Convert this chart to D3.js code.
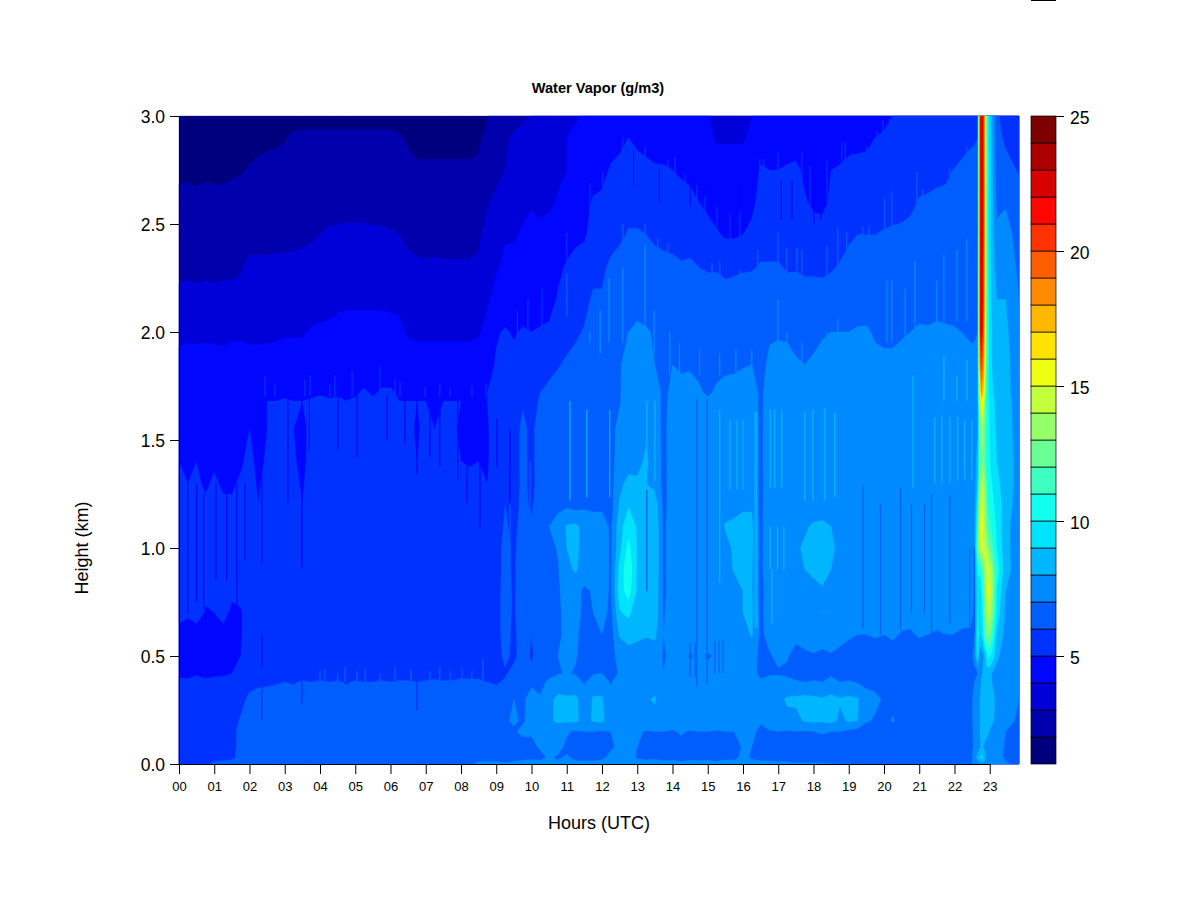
<!DOCTYPE html>
<html><head><meta charset="utf-8">
<script src="https://cdn.jsdelivr.net/npm/d3@7"></script>
<style>html,body{margin:0;background:#fff}svg{display:block}text{font-family:"Liberation Sans",Arial,sans-serif;fill:#000}</style>
</head><body><svg id="c" width="1200" height="900"></svg>
<script>
const titleText="Water Vapor (g/m3)", xTitle="Hours (UTC)", yTitle="Height (km)";
const hourLabels=["00","01","02","03","04","05","06","07","08","09","10","11","12","13","14","15","16","17","18","19","20","21","22","23"];
const heightTicks=[0,0.5,1,1.5,2,2.5,3];
const legendTicks=[5,10,15,20,25];
const levels=[1,2,3,4,5,6,7,8,9,10,11,12,13,14,15,16,17,18,19,20,21,22,23,24,25];
const jetAnchors=["#00007F","#0000FF","#007FFF","#00FFFF","#7FFF7F","#FFFF00","#FF7F00","#FF0000","#7F0000"];
const columnHours=[0,.25,.5,.75,1,1.25,1.5,1.75,2,2.25,2.5,2.75,3,3.25,3.5,3.75,4,4.25,4.5,4.75,5,5.25,5.5,5.75,6,6.25,6.5,6.75,7,7.25,7.5,7.75,8,8.25,8.5,8.75,9,9.25,9.5,9.75,10,10.25,10.5,10.75,11,11.25,11.5,11.75,12,12.25,12.5,12.75,13,13.25,13.5,13.75,14,14.25,14.5,14.75,15,15.25,15.5,15.75,16,16.25,16.5,16.75,17,17.25,17.5,17.75,18,18.25,18.5,18.75,19,19.25,19.5,19.75,20,20.25,20.5,20.75,21,21.25,21.5,21.75,21.95,22.2,22.46,22.56,22.66,22.72,22.76,22.81,22.86,22.91,22.96,23.06,23.2,23.45,23.83];
const rowHeights=[0,.03,.08,.15,.2,.3,.38,.42,.5,.6,.7,.8,.9,1,1.1,1.2,1.3,1.4,1.55,1.68,1.72,1.85,2,2.15,2.3,2.45,2.6,2.75,2.9,3];
const r000=[5.5,5.6,5.6,5.7, 6.3,6.3,6.4,6.4, 6.5,6.5,6.5,6.5, 6.5,6.5,6.5,6.5, 6.5,6.5,6.5,6.5, 6.5,6.5,6.5,6.5, 6.5,6.5,6.5,6.5, 6.5,6.5,6.5,6.5, 6.6,6.8,7.2,7.2, 7.2,7.1,7.2,7.3, 7.2,7.3,7.3,7.2, 7.3,7.2,7.2,7.3, 7.4,7.5,7.6,7.6, 7.4,7.3,7.3,7.2, 7.3,7.2,7.3,7.2, 7.3,7.2,7.2,7.3, 7.4,7.3,7.2,7.3, 7.2,7.2,7.1,7.1, 7.1,7.1,7,7, 6.8,6.6,6.5,6.5, 6.5,6.5,6.5,6.5, 6.5,6.5,6.5,6.5, 6.5,6.5,6.6,7.5, 7.5,7.5,7.6,7.6, 7.6,7.6,7.6,7.5, 7.4,7.2,6.5];
const r003=[5.5,5.5,5.5,5.6, 5.6,5.7,5.8,6.3, 6.5,6.5,6.5,6.5, 6.5,6.5,6.5,6.5, 6.5,6.5,6.5,6.5, 6.5,6.5,6.5,6.5, 6.5,6.5,6.5,6.5, 6.5,6.5,6.5,6.5, 6.5,6.6,6.7,6.7, 6.7,6.6,6.7,6.8, 6.9,6.8,7.1,6.9, 7.1,6.8,6.8,6.7, 6.8,7.3,7.4,7.4, 6.9,6.8,6.9,6.8, 6.8,6.7,6.8,6.8, 6.8,6.7,6.9,6.8, 7.2,6.9,6.8,6.7, 6.7,6.6,6.6,6.6, 6.5,6.5,6.5,6.5, 6.5,6.5,6.5,6.5, 6.5,6.5,6.5,6.5, 6.5,6.5,6.5,6.5, 6.5,6.5,6.6,7.5, 8.3,8.8,9.2,9, 8.4,7.7,7.6,7.5, 7.4,6.8,6.4];
const r008=[5.5,5.5,5.5,5.5, 5.5,5.5,5.6,6.4, 6.5,6.5,6.5,6.5, 6.5,6.5,6.5,6.5, 6.5,6.5,6.5,6.5, 6.5,6.5,6.5,6.5, 6.5,6.5,6.5,6.5, 6.5,6.5,6.5,6.5, 6.5,6.5,6.5,6.5, 6.5,6.6,6.7,6.6, 6.8,7.1,7.2,7.3, 6.8,6.6,6.6,6.7, 6.7,6.8,7.3,7.4, 7,6.7,6.8,6.7, 6.6,6.7,6.6,6.6, 6.7,6.6,6.7,6.6, 7.1,7,6.6,6.6, 6.6,6.5,6.5,6.5, 6.5,6.5,6.5,6.5, 6.5,6.5,6.5,6.5, 6.5,6.5,6.5,6.5, 6.5,6.5,6.5,6.5, 6.5,6.5,6.6,7.2, 7.6,7.8,8.2,8, 7.8,7.6,7.6,7.5, 7.4,6.9,6.4];
const r015=[5.5,5.5,5.5,5.5, 5.5,5.5,5.6,6.4, 6.5,6.5,6.5,6.5, 6.5,6.5,6.5,6.5, 6.5,6.5,6.5,6.5, 6.5,6.5,6.5,6.5, 6.5,6.5,6.5,6.5, 6.5,6.5,6.5,6.5, 6.5,6.5,6.5,6.5, 6.6,6.7,6.9,7.2, 7.1,7.3,7.4,7.2, 7.1,6.9,7,7, 6.9,7,7.4,7.5, 7.2,6.9,7,7, 6.9,7.1,6.9,7, 7,6.9,7,7, 7.3,7.2,6.8,6.9, 7,6.9,7,6.9, 7,7.1,7,7, 6.8,6.6,6.5,6.5, 6.5,6.5,6.5,6.5, 6.5,6.5,6.5,6.5, 6.5,6.5,6.6,7.2, 7.7,8,8.3,8.4, 8.4,8.3,8.1,7.7, 7.5,7,6.7];
const r020=[5.5,5.5,5.5,5.5, 5.4,5.5,5.6,6.1, 6.4,6.5,6.5,6.5, 6.5,6.5,6.5,6.5, 6.5,6.5,6.5,6.5, 6.5,6.5,6.5,6.5, 6.5,6.5,6.5,6.5, 6.5,6.5,6.5,6.5, 6.5,6.5,6.5,6.5, 6.5,6.9,7.1,6.9, 7.3,7,7.8,8.2, 8.1,8.2,7.6,8.1, 8.2,7.4,7.6,7.8, 7.7,7.8,7.7,7.4, 7.6,7.7,7.8,7.6, 7.7,7.7,7.6,7.7, 7.8,7.6,7.1,7.6, 7.7,7.8,7.7,8.1, 8.2,8.1,8.3,7.8, 8.1,8,7.1,6.9, 6.7,7.1,6.6,6.5, 6.5,6.5,6.5,6.5, 6.5,6.5,6.7,7.3, 7.6,7.9,8.5,8.8, 8.8,8.7,8.5,8.2, 7.7,7.2,6.9];
const r030=[5.5,5.5,5.5,5.5, 5.4,5.5,5.5,5.7, 6.2,6.4,6.5,6.5, 6.5,6.5,6.5,6.5, 6.5,6.5,6.5,6.5, 6.5,6.5,6.5,6.5, 6.5,6.5,6.5,6.5, 6.5,6.5,6.5,6.5, 6.5,6.5,6.5,6.5, 6.5,6.9,7,6.8, 7.4,7.1,7.8,8.2, 8.1,8.2,7.4,8.1, 8.1,7.3,7.7,7.7, 7.6,7.9,8.1,7.4, 7.6,7.7,7.6,7.7, 7.7,7.6,7.7,7.7, 7.8,7.6,7.1,7.7, 7.8,8.1,8.2,8.3, 8.2,8.1,8.3,8.1, 8.2,8.1,7.3,7.2, 6.9,6.7,6.7,6.6, 6.5,6.5,6.5,6.5, 6.5,6.5,6.8,7.2, 7.5,8,8.4,8.8, 8.8,8.6,8.6,8.3, 7.8,7.3,7];
const r038=[5.2,5.2,5.3,5.2, 5.3,5.2,5.4,5.5, 5.7,5.8,5.8,5.9, 6,5.9,6.1,6, 6.1,6,6.1,5.9, 6.1,6,6,6.1, 6,6.1,6.1,6, 6.1,6.2,6.1,6.1, 6.2,6.1,6.2,6, 5.9,6.1,6.5,6.6, 6.8,6.7,7.2,7.5, 7.6,7.4,6.9,7.5, 7.5,6.9,7.5,7.6, 7.5,7.4,7.6,7.2, 7.5,7.5,7.4,7.6, 7.5,7.6,7.5,7.5, 7.5,7.6,7.1,7.3, 7.4,7.3,7.1,7, 7.1,7,7.2,7, 7.1,6.9,6.8,6.7, 6.6,6.6,6.5,6.5, 6.5,6.5,6.5,6.5, 6.5,6.5,6.7,7, 7.2,7.6,8,8.2, 8.4,8.4,8.3,8, 7.7,7.3,7];
const r042=[4.8,4.7,4.9,4.7, 4.8,4.9,5,5.2, 5.5,5.5,5.5,5.5, 5.5,5.5,5.5,5.5, 5.5,5.5,5.5,5.5, 5.5,5.5,5.5,5.5, 5.5,5.5,5.5,5.5, 5.5,5.5,5.5,5.5, 5.7,5.8,5.6,5.7, 5.6,5.9,6.3,6.5, 6.2,6.6,6.7,6.9, 7.1,6.9,6.6,6.9, 7,6.6,7.1,7.5, 7.4,7.2,7.3,7, 7.3,7.2,7.2,7.3, 7.3,7.2,7.3,7.2, 7.4,7.3,6.8,6.9, 6.9,6.8,6.6,6.6, 6.6,6.6,6.9,6.6, 6.5,6.5,6.5,6.5, 6.5,6.5,6.5,6.5, 6.5,6.5,6.5,6.5, 6.5,6.5,6.6,6.8, 7,7.3,7.7,8.2, 8.6,8.7,8.4,8, 7.7,7.3,7];
const r050=[4.6,4.7,4.4,4.6, 4.5,4.7,4.6,5, 5.5,5.5,5.5,5.5, 5.5,5.5,5.5,5.5, 5.5,5.5,5.5,5.5, 5.5,5.5,5.5,5.5, 5.5,5.5,5.5,5.5, 5.5,5.5,5.5,5.5, 5.5,5.5,5.5,5.5, 5.6,6.2,5.8,6.4, 5.9,6.4,6.6,7, 7.3,7.1,6.5,6.8, 6.8,6.6,7.4,7.6, 7.6,7.4,7.5,6.9, 7.3,7.4,6.9,7.2, 6.9,7.1,7.3,7.4, 7.3,7.3,6.8,6.9, 7.2,7.1,6.6,6.7, 6.9,6.6,6.9,6.6, 6.7,6.6,6.6,6.5, 6.5,6.5,6.5,6.5, 6.5,6.5,6.5,6.5, 6.5,6.5,6.7,7.2, 9.6,7.3,7.5,7.8, 8.5,9.3,10.2,9.8, 8.2,7.5,7];
const r060=[4.6,4.4,4.5,4.6, 4.5,4.7,4.6,4.9, 5.5,5.5,5.5,5.5, 5.5,5.5,5.5,5.5, 5.5,5.5,5.5,5.5, 5.5,5.5,5.5,5.5, 5.5,5.5,5.5,5.5, 5.5,5.5,5.5,5.5, 5.5,5.5,5.5,5.5, 5.7,6.3,5.8,6.5, 6,6.3,6.2,6.7, 7.4,7.2,6.6,6.9, 7,6.6,8.1,8.4, 8.2,8.1,8.2,7, 7.5,7.6,7.5,7.6, 7.5,7.5,7.6,7.5, 7.6,8.1,6.8,7.3, 7.6,7.5,7.3,7.7, 7.7,7.8,7.6,7.5, 7.1,7,7,7.1, 7,7.2,6.9,6.9, 7.1,7,6.9,7, 7,6.9,6.9,6.9, 10.2,8.8,9.1,9.8, 11.5,12.6,13.2,11.5, 8.8,7.7,7];
const r070=[5.4,5.2,5.5,4.9, 5,5.3,4.8,4.9, 5.5,5.5,5.5,5.5, 5.5,5.5,5.5,5.5, 5.5,5.5,5.5,5.5, 5.5,5.5,5.5,5.5, 5.5,5.5,5.5,5.5, 5.5,5.5,5.5,5.5, 5.5,5.5,5.5,5.6, 5.7,6.3,5.9,6.5, 6.1,6.4,6.3,6.7, 7.5,7.3,6.8,7, 7.4,6.7,8.9,9.2, 8.5,8.4,8.6,6.9, 7.6,7.5,7.6,7.5, 7.6,7.5,7.6,7.7, 8,8.2,6.7,7.6, 7.7,7.6,7.7,7.9, 7.8,8,8,7.7, 7.6,7.6,7.7,7.3, 7.6,7.7,7.5,7.3, 7.9,7.7,7.4,7.8, 7.6,7.3,7.2,6.9, 9.7,8.8,9.5,10.2, 12.1,13.8,14.5,13.1, 9.6,7.8,7.1];
const r080=[5.5,5.3,5.5,5.2, 5.4,5.3,5.2,5.3, 5.5,5.5,5.5,5.5, 5.5,5.5,5.5,5.5, 5.5,5.5,5.5,5.5, 5.5,5.5,5.5,5.5, 5.5,5.5,5.5,5.5, 5.5,5.5,5.5,5.5, 5.5,5.5,5.5,5.5, 5.7,6.3,5.9,6.4, 6.2,6.5,6.4,6.8, 7.6,7.4,6.8,7.1, 7.6,6.8,9.5,10.5, 8.8,8.4,8.7,6.8, 7.5,7.6,7.5,7.6, 7.5,7.5,7.6,7.5, 8,8.1,6.7,7.5, 7.6,7.5,7.6,7.8, 7.7,7.9,7.9,7.8, 7.6,7.7,7.5,7.4, 7.6,7.7,7.6,7.2, 7.7,7.7,7.5,7.7, 7.6,7.3,7.2,7, 9.6,8.8,9.8,10.8, 12.8,14.6,15.2,13.8, 9.9,8,7.2];
const r090=[5.7,5.4,5.6,5.3, 5.5,5.4,5.3,5.4, 5.5,5.5,5.5,5.5, 5.5,5.5,5.5,5.5, 5.5,5.5,5.5,5.5, 5.5,5.5,5.5,5.5, 5.5,5.5,5.5,5.5, 5.5,5.5,5.5,5.5, 5.5,5.5,5.5,5.5, 5.7,6.2,5.9,6.4, 6.3,6.6,6.5,6.9, 7.8,8.1,7.6,7.5, 7.7,6.8,9.3,10.8, 8.9,8.6,8.8,6.8, 7.6,7.5,7.6,7.5, 7.5,7.6,7.5,8.1, 8.3,8.1,6.7,7.9, 7.7,7.8,7.9,8, 8.2,8.3,8,7.7, 7.6,7.5,7.6,7.4, 7.6,7.5,7.6,7.4, 7.6,7.5,7.4,7.3, 7.4,7.3,7.2,7.1, 10.2,10.4,11,12, 13.4,14.5,14.8,13.5, 10.6,8.4,7.4];
const r100=[5.4,5.2,5.4,5.3, 5.5,5.3,5.2,5.4, 5.5,5.3,5.5,5.5, 5.5,5.5,5.3,5.5, 5.5,5.5,5.5,5.5, 5.5,5.5,5.5,5.5, 5.5,5.5,5.5,5.5, 5.5,5.5,5.5,5.5, 5.5,5.5,5.5,5.5, 5.7,6.2,5.9,6.3, 6.2,6.5,6.6,7.1, 8,8.2,7.7,7.6, 7.7,6.8,8.7,10.3, 8.9,8.6,8.8,6.8, 7.6,7.5,7.5,7.6, 7.5,7.5,7.6,8.2, 8.4,8.2,6.7,7.9, 7.7,7.8,7.9,8.1, 8.3,8.4,8.2,7.7, 7.6,7.5,7.6,7.5, 7.6,7.5,7.5,7.4, 7.6,7.5,7.4,7.3, 7.4,7.3,7.2,7.1, 12,14.5,15,14.5, 14.6,14,13,11.5, 10,8.3,7.4];
const r110=[5.3,5.2,5.3,5.2, 5.4,5.2,5.1,5.3, 5.5,5.1,5.5,5.5, 5.5,5.5,5.1,5.5, 5.5,5.5,5.5,5.5, 5.5,5.5,5.5,5.5, 5.5,5.5,5.5,5.5, 5.5,5.5,5.5,5.5, 5.5,5.5,5.5,5.3, 5.6,6.1,5.8,6.3, 6.1,6.4,7,7.3, 8.1,8.2,7.7,7.8, 7.6,6.8,8.6,9.6, 8.9,8.7,8.8,6.8, 7.6,7.5,7.6,7.5, 7.6,7.5,8.1,8.3, 8.4,8.2,6.7,7.9, 7.7,7.7,7.8,7.9, 8.1,8.2,8,7.7, 7.6,7.5,7.6,7.5, 7.6,7.6,7.5,7.5, 7.6,7.5,7.5,7.4, 7.4,7.3,7.2,7.2, 11,15,15.8,15, 13.5,12.5,11.5,10.8, 9.8,8.3,7.4];
const r120=[5.2,5.1,5.2,5.1, 5.2,5.1,5.1,5.2, 5.4,5,5.4,5.5, 5.5,5.4,5,5.5, 5.5,5.5,5.5,5.5, 5.5,5.5,5.5,5.5, 5.5,5.5,5.5,5.3, 5.5,5.4,5.5,5.5, 5.5,5.4,5.5,5.1, 5.5,6,5.7,6.2, 5.9,6.4,6.6,6.8, 6.8,6.6,6.8,6.6, 6.7,6.6,8.1,8.9, 8.5,8.4,8.5,6.7, 7.5,7.5,7.4,7.6, 7.5,7.6,7.5,7.5, 7.8,7.9,6.7,7.8, 7.6,7.7,7.7,7.6, 7.6,7.5,7.6,7.5, 7.6,7.5,7.5,7.5, 7.5,7.6,7.5,7.4, 7.5,7.5,7.4,7.4, 7.4,7.3,7.2,7.2, 10,14,15.3,14.5, 13.5,12,10.8,10.3, 9.6,8.5,7.5];
const r130=[5.1,5,5.1,4.9, 5.1,4.9,4.9,5.1, 5.3,4.9,5.3,5.3, 5.4,5.2,4.9,5.4, 5.5,5.5,5.5,5.5, 5.5,5.3,5.5,5.5, 5.5,5.4,5.5,5.2, 5.5,5.3,5.5,5.3, 5.2,5.3,5.3,5, 5.5,5.9,5.6,6.2, 5.8,6.3,6.7,6.5, 6.8,6.6,6.7,6.6, 6.7,6.6,7.8,8.2, 8.1,8,7.7,6.7, 7.5,7.5,7.4,7.5, 7.5,7.5,7.5,7.4, 7.6,7.8,6.7,7.7, 7.6,7.6,7.5,7.6, 7.6,7.5,7.6,7.5, 7.6,7.5,7.5,7.5, 7.5,7.5,7.6,7.5, 7.5,7.6,7.5,7.5, 7.5,7.4,7.2,7.2, 9,13,14,14, 13,11.5,10.5,10, 9.2,8.6,7.6];
const r140=[5,4.9,5,4.8, 4.9,4.8,4.7,4.9, 5.2,4.8,5.1,5.2, 5.3,5.1,4.8,5.3, 5.4,5.5,5.5,5.2, 5.5,5.2,5.5,5.3, 5.5,5.2,5.4,5, 5.4,5.1,5.3,5.2, 5,4.9,5,4.9, 5.5,5.9,5.6,6.2, 5.8,6.4,6.8,6.5, 6.8,6.6,6.7,6.6, 6.7,6.6,7.5,7.7, 7.8,8.1,7.7,6.7, 7.6,7.6,7.5,7.5, 7.5,7.6,7.7,7.6, 7.6,7.9,6.7,7.8, 7.8,7.7,7.7,7.7, 7.7,7.8,7.7,7.7, 7.7,7.6,7.7,7.6, 7.7,7.6,7.7,7.6, 7.6,7.7,7.7,7.7, 7.7,7.7,7.6,7.5, 8.5,12,13,12.8, 11.8,10.8,10.2,9.8, 9,8.6,7.6];
const r155=[4.7,4.6,4.7,4.6, 4.7,4.6,4.6,4.7, 5,4.7,5,5.1, 5.2,5,4.8,5.2, 5.3,5.3,5.4,5.1, 5.3,5.1,5.3,5.2, 5.4,5.1,5.2,4.9, 5.2,5,5.1,5.1, 4.9,4.8,4.9,4.9, 5.5,5.9,5.6,6.2, 5.8,6.4,6.8,6.5, 6.8,6.6,6.7,6.6, 6.7,6.6,7.4,7.6, 7.6,7.9,7.6,6.7, 7.6,7.6,7.5,7.5, 7.5,7.6,7.6,7.6, 7.7,7.9,6.7,7.8, 7.8,7.7,7.7,7.8, 7.8,7.8,7.8,7.7, 7.7,7.6,7.7,7.6, 7.7,7.6,7.7,7.6, 7.6,7.7,7.7,7.7, 7.7,7.7,7.7,7.5, 8,12,13.5,13.2, 12,10.8,10.2,9.6, 8.8,8.4,7.6];
const r168=[4.5,4.5,4.6,4.5, 4.6,4.5,4.5,4.6, 4.9,4.8,5,5, 5.1,5,5,5.1, 5.2,5.1,5.1,5, 5.1,5,5.1,5.1, 5.1,5,5,5, 5,4.9,5,5, 5,4.9,4.9,5, 5.3,5.6,5.6,5.9, 5.7,6.1,6.4,6.6, 6.8,6.9,6.8,6.8, 6.8,6.7,6.9,7.6, 7.6,7.7,7.6,6.7, 7.4,7.3,7.4,7.2, 7.1,7.3,7.4,7.5, 7.6,7.7,6.7,7.7, 7.7,7.6,7.6,7.6, 7.7,7.6,7.7,7.7, 7.7,7.6,7.7,7.6, 7.7,7.6,7.7,7.6, 7.7,7.7,7.7,7.7, 7.7,7.6,7.5,7.4, 8,14,16.5,15.5, 13,11,10.2,9.4, 8.6,8.4,7.5];
const r172=[4.5,4.5,4.5,4.5, 4.5,4.5,4.5,4.6, 4.7,4.8,4.7,4.8, 4.8,4.7,4.9,4.8, 4.9,4.8,4.9,4.8, 4.9,5.1,4.9,5.1, 5.1,4.9,4.9,4.8, 4.8,4.8,4.8,4.8, 4.8,4.8,4.8,5, 5.2,5.4,5.6,5.7, 5.5,6,6.3,6.5, 6.7,6.8,6.8,6.8, 6.8,6.7,6.9,7.6, 7.6,7.7,7.6,6.7, 7.3,7.2,7.3,7.1, 6.9,7.1,7.3,7.4, 7.6,7.7,6.7,7.7, 7.7,7.6,7.6,7.5, 7.6,7.5,7.6,7.7, 7.6,7.6,7.6,7.6, 7.6,7.6,7.6,7.6, 7.6,7.6,7.6,7.6, 7.6,7.5,7.4,7.3, 7.8,15,18,17, 14,11,10.1,9.2, 8.5,8.3,7.5];
const r185=[4.5,4.4,4.5,4.4, 4.5,4.4,4.5,4.5, 4.5,4.5,4.5,4.5, 4.5,4.5,4.5,4.5, 4.5,4.5,4.5,4.5, 4.5,4.5,4.5,4.5, 4.5,4.5,4.5,4.5, 4.5,4.5,4.5,4.5, 4.5,4.5,4.5,4.6, 5.1,5.2,5.3,5.4, 5.2,5.4,5.6,5.9, 6.2,6.4,6.6,6.7, 6.7,6.8,6.9,7.4, 7.4,7.2,7,6.9, 7,6.9,6.9,6.8, 6.7,6.8,6.8,6.8, 6.9,7,6.5,7.3, 7.3,7.4,7.1,7, 7.1,7.3,7.3,7.3, 7.3,7.2,7.3,7.2, 7.2,7.1,7.3,7.3, 7.4,7.3,7.3,7.3, 7.3,7.2,7.2,7.2, 7.5,18,20.5,19, 15,11.5,10.2,9, 8.3,8.3,7.4];
const r200=[3.6,3.8,3.7,3.8, 3.7,3.7,3.8,3.8, 3.7,3.7,3.7,3.8, 3.9,3.9,3.9,4.1, 4.2,4.3,4.3,4.4, 4.4,4.4,4.4,4.4, 4.3,4.2,3.9,3.8, 3.8,3.8,3.8,3.8, 3.8,3.8,3.9,4.3, 4.9,5.1,4.9,5.1, 5,5.1,5.2,5.4, 5.5,5.8,6.1,6.5, 6.6,6.8,6.9,7, 7.2,7.1,6.9,6.8, 6.8,6.7,6.7,6.7, 6.7,6.7,6.7,6.7, 6.7,6.7,6.5,6.8, 6.9,6.8,6.7,6.7, 6.8,6.9,7,7, 7,7.1,7.1,6.9, 6.8,6.9,6.9,7, 7.1,7.1,7.1,7.1, 7.1,7,6.9,6.9, 7,19,23,20, 16,12,10.2,9, 8.2,8.2,7.2];
const r215=[3.3,3.3,3.3,3.3, 3.3,3.3,3.3,3.3, 3.3,3.3,3.3,3.3, 3.5,3.5,3.5,3.5, 3.5,3.5,3.8,3.8, 3.8,3.8,3.8,3.8, 3.8,3.8,3.5,3.4, 3.4,3.4,3.4,3.4, 3.4,3.4,3.4,3.9, 4.3,4.4,4.4,4.5, 4.5,4.5,4.6,5.1, 5.3,5.4,5.6,6.2, 6.1,6.4,6.5,6.5, 6.6,6.5,6.6,6.4, 6.5,6.6,6.5,6.5, 6.5,6.5,6.5,6.5, 6.5,6.6,6.3,6.7, 6.6,6.5,6.6,6.5, 6.5,6.6,6.5,6.6, 6.6,6.5,6.6,6.6, 6.5,6.6,6.6,6.7, 6.7,6.6,6.8,6.7, 6.6,6.6,6.6,6.7, 7,19,23,21, 16.5,12,10.2,8.8, 8,8,7];
const r230=[2.7,2.8,2.7,2.8, 2.7,2.8,2.8,2.9, 3.3,3.3,3.3,3.3, 3.3,3.3,3.3,3.3, 3.3,3.3,3.3,3.3, 3.3,3.3,3.3,3.3, 3.3,3.3,3.1,3.1, 3.1,3.1,3.1,3.1, 3.1,3.1,3.2,3.5, 3.9,4.2,4.3,4.4, 4.5,4.6,4.7,4.8, 5.1,5.3,5.4,5.6, 5.8,6.2,6.4,6.5, 6.5,6.5,6.4,6.3, 6.2,6.1,6.2,6, 5.9,5.9,5.7,5.8, 5.9,5.9,6.1,6.1, 6.1,5.9,5.9,5.8, 5.8,5.7,5.9,6.1, 6.2,6.2,6.3,6.3, 6.3,6.4,6.4,6.4, 6.5,6.5,6.5,6.5, 6.5,6.5,6.5,6.5, 6.8,19,23.5,21, 17,12,10.2,8.6, 7.6,7.7,6.8];
const r245=[2.5,2.5,2.5,2.5, 2.5,2.5,2.5,2.5, 2.5,2.5,2.5,2.6, 2.6,2.7,2.8,2.9, 3,3.2,3.2,3.3, 3.3,3.3,3.2,3.2, 3.1,3,2.9,2.8, 2.7,2.8,2.7,2.7, 2.7,2.7,2.8,3.4, 3.7,3.9,3.9,4.1, 4.3,4.3,4.5,4.6, 4.6,4.8,4.9,5.3, 5.4,5.6,5.8,6.1, 6.1,6,5.8,5.7, 5.7,5.6,5.5,5.5, 5.3,5.1,4.9,4.9, 5,5.3,5.5,5.5, 5.5,5.5,5.5,5.5, 5.5,5.5,5.5,5.5, 5.9,6,6,6, 6.1,6.2,6.3,6.4, 6.5,6.5,6.5,6.5, 6.5,6.5,6.5,6.5, 6.5,19,23.5,21.5, 17,12,10,8.5, 7.2,7.4,6.6];
const r260=[2.5,2.5,2.4,2.5, 2.4,2.5,2.5,2.5, 2.5,2.5,2.5,2.5, 2.5,2.5,2.5,2.5, 2.5,2.5,2.5,2.5, 2.5,2.5,2.5,2.5, 2.5,2.5,2.5,2.5, 2.5,2.5,2.5,2.5, 2.5,2.5,2.6,2.9, 3.3,3.5,3.7,3.8, 3.9,3.7,3.8,4.1, 4.3,4.5,4.7,5.1, 5.2,5.3,5.5,5.6, 5.6,5.6,5.5,5.5, 5.5,5.5,5.3,5, 4.8,4.6,4.6,4.6, 4.6,4.7,5.4,5.3, 5.2,5.4,5.2,5.1, 4.8,4.7,5.2,5.3, 5.5,5.5,5.5,5.5, 5.5,5.5,5.5,5.7, 6.1,6.2,6.4,6.5, 6.5,6.5,6.5,6.5, 6.5,19,23,21.5, 17,12,10,8.4, 6.8,6.9,6.5];
const r275=[1.6,1.7,1.6,1.7, 1.7,1.6,1.8,1.9, 2.1,2.3,2.4,2.4, 2.5,2.5,2.5,2.5, 2.5,2.5,2.5,2.5, 2.5,2.5,2.5,2.5, 2.5,2.5,2.2,2.2, 2.2,2.2,2.2,2.2, 2.2,2.2,2.3,2.8, 2.6,3,3.3,3.5, 3.6,3.6,3.7,3.8, 4,4.2,4.4,4.6, 4.7,5.1,5.2,5.3, 5.3,5.2,5.1,5.1, 5,4.8,4.7,4.6, 4.4,4.4,4.4,4.4, 4.4,4.5,5.1,5, 5,5.1,5.2,4.8, 4.5,4.6,5,5.1, 5.3,5.4,5.4,5.5, 5.5,5.5,5.5,5.5, 5.5,5.5,5.5,5.6, 6,6.1,6.2,6.3, 6.3,19,23,21.5, 17,12,10,8.3, 6.5,6.4,5.9];
const r290=[1.6,1.6,1.6,1.6, 1.6,1.6,1.6,1.6, 1.6,1.6,1.7,1.8, 1.9,2.2,2.3,2.3, 2.3,2.3,2.3,2.3, 2.3,2.3,2.3,2.3, 2.3,2.1,1.9,1.6, 1.6,1.6,1.6,1.6, 1.6,1.6,1.7,2.5, 2.7,2.9,3.1,3.2, 3.4,3.5,3.6,3.8, 4,4.2,4.4,4.5, 4.6,4.6,4.8,5, 4.8,4.7,4.6,4.5, 4.5,4.5,4.5,4.5, 4.3,3.9,3.9,3.9, 3.9,4.2,4.5,4.5, 4.5,4.5,4.5,4.5, 4.4,4.4,4.5,4.5, 4.6,4.6,4.7,5, 5.1,5.3,5.4,5.4, 5.5,5.5,5.5,5.6, 5.6,5.8,5.9,5.9, 6,19,23,21.5, 17,12,10,8.2, 6.3,5.8,5.5];
const r300=[1.5,1.5,1.5,1.5, 1.5,1.5,1.5,1.5, 1.5,1.5,1.5,1.5, 1.5,1.5,1.5,1.5, 1.5,1.5,1.5,1.5, 1.5,1.5,1.5,1.5, 1.5,1.5,1.5,1.5, 1.5,1.5,1.5,1.5, 1.5,1.5,1.5,1.9, 2.5,2.5,2.7,2.9, 3,3.4,3.5,3.7, 3.7,3.9,4.1,4.5, 4.5,4.5,4.5,4.5, 4.5,4.5,4.5,4.5, 4.5,4.5,4.5,4.5, 4.1,3.6,3.5,3.5, 3.6,4,4.5,4.5, 4.5,4.5,4.5,4.5, 4.5,4.5,4.5,4.5, 4.5,4.5,4.5,4.6, 4.8,5,5.3,5.4, 5.4,5.4,5.5,5.5, 5.5,5.5,5.5,5.6, 5.8,19,23,21.5, 17,12,10,8.1, 6.2,5.5,4.9];
const heightRows=[r000,r003,r008,r015,r020,r030,r038,r042,r050,r060,r070,r080,r090,r100,r110,r120,r130,r140,r155,r168,r172,r185,r200,r215,r230,r245,r260,r275,r290,r300];
// thin single-profile streaks: [hour, low km, high km]
const streaks45=[[.25,.7,1.35],[.5,.75,1.3],[.7,.72,1.25],[.82,1.28,1.55],[1.05,.85,1.3],[1.35,.85,1.25],[1.64,.73,1.3],[1.87,.94,1.3],[2.1,1.59,1.71],[2.35,.93,1.71],[2.35,.45,.6],[3.09,1.21,1.71],[3.49,.91,1.71],[3.7,1.45,1.71],[4.51,1.45,1.71],[5.05,1.42,1.71],[5.9,1.5,1.71],[6.41,1.48,1.71],[6.75,1.34,1.71],[7.12,1.42,1.71],[7.4,1.38,1.71],[7.91,1.31,1.71],[8.17,1.21,1.71],[8.54,1.1,1.5],[9.02,1.375,1.6],[9.39,1.21,1.55],[12.9,2.68,2.84],[13.63,2.6,2.76],[14.5,2.58,2.72],[14.92,2.58,2.7],[15.34,2.58,2.7],[15.91,2.58,2.7],[16.28,2.62,2.76],[17.09,2.52,2.7],[17.39,2.52,2.7],[18.01,2.5,2.68],[18.2,2.52,2.68]];
const streaks55=[[2.44,1.7,1.8],[2.72,1.7,1.76],[3.57,1.7,1.78],[3.72,1.7,1.8],[4.28,1.7,1.76],[4.42,1.7,1.8],[4.91,1.7,1.82],[5.7,1.7,1.84],[6.13,1.7,1.78],[6.27,1.7,1.77],[6.98,1.7,1.75],[7.4,1.7,1.76],[7.69,1.7,1.74],[8.31,1.7,1.75],[8.71,1.7,1.76],[9.3,1.7,2],[9.6,1.7,2.1],[9.9,1.75,2.15],[10.3,1.8,2.2],[2.35,.2,.38],[3.49,.28,.4],[6.75,.25,.4],[11,2.26,2.46],[11.66,2.49,2.69],[12.02,2.54,2.74],[12.31,2.55,2.75],[12.59,2.7,2.9],[12.93,2.64,2.84],[13.22,2.66,2.86],[13.87,2.6,2.8],[14.07,2.61,2.81],[14.35,2.53,2.73],[14.69,2.48,2.68],[14.92,2.43,2.63],[15.26,2.38,2.58],[15.63,2.35,2.55],[15.91,2.36,2.56],[16.48,2.6,2.8],[16.59,2.6,2.8],[16.99,2.63,2.83],[17.19,2.56,2.76],[17.33,2.56,2.76],[17.53,2.56,2.76],[17.67,2.63,2.83],[17.9,2.57,2.77],[18.38,2.6,2.8],[18.8,2.68,2.88],[18.9,2.68,2.88],[19.09,2.63,2.83],[19.31,2.63,2.83],[19.51,2.66,2.86],[19.8,2.73,2.93],[19.97,2.78,2.98],[20.16,2.79,2.99]];
const streaks65=[[9.39,.55,1.2],[9.68,.55,1.25],[9.82,.45,1.3],[9.96,.6,1.4],[4,.38,.43],[4.14,.38,.44],[4.5,.38,.42],[4.71,.38,.45],[5.05,.38,.43],[5.28,.38,.44],[5.7,.38,.42],[6.13,.38,.45],[6.58,.38,.44],[7.12,.38,.43],[7.4,.38,.45],[7.69,.38,.43],[8.03,.38,.44],[8.31,.38,.43],[8.62,.38,.49],[11,2.07,2.27],[12.59,2.3,2.5],[12.93,2.22,2.42],[13.22,2.3,2.5],[13.58,2.24,2.44],[13.87,2.21,2.41],[14.12,2.15,2.35],[14.69,2.1,2.3],[15.12,2.12,2.32],[15.34,2.13,2.33],[15.91,2.09,2.29],[16.42,2.18,2.38],[16.99,2.26,2.46],[17.24,2.19,2.39],[17.53,2.19,2.39],[17.67,2.18,2.38],[18.38,2.2,2.4],[18.69,2.29,2.49],[18.94,2.26,2.46],[19.4,2.29,2.49],[19.57,2.29,2.49],[20.02,2.42,2.62],[20.22,2.45,2.65],[20.93,2.54,2.74],[21.1,2.46,2.66],[21.47,2.46,2.66],[21.87,2.56,2.76],[22.35,2.66,2.86],[13.27,.8,1.27],[14.69,.36,1.69],[14.98,.37,1.69],[19.4,.63,1.29],[19.9,.6,1.2],[20.47,.62,1.28],[20.78,.7,1.2],[21.15,.7,1.2],[21.35,.6,1.25],[21.87,.65,1.24],[22.43,.6,1],[22.56,.6,1],[15.2,.42,.57],[15.32,.42,.57],[15.43,.42,.57],[14.5,.4,.56],[14.64,.4,.56]];
const streaks75=[[11.66,1.95,2.0],[11.95,1.9,2.1],[12.2,1.95,2.25],[12.59,1.95,2.3],[13.22,1.9,2.4],[13.48,1.9,2.1],[13.92,1.8,2],[14.2,1.8,1.95],[14.77,1.8,1.92],[15.34,1.8,1.9],[15.8,1.8,1.92],[16.25,1.8,1.92],[16.99,1.8,2.15],[17.24,1.8,2],[17.67,1.8,1.95],[18.38,1.85,2],[18.69,1.85,2.06],[20.08,1.95,2.24],[20.22,1.95,2.24],[20.6,1.95,2.2],[20.88,2,2.33],[21.5,2,2.24],[21.7,2,2.36],[22.07,2.05,2.38],[22.35,2.05,2.43]];
const streaks85=[[11.09,1.22,1.68],[11.57,1.235,1.64],[12.22,1.235,1.64],[13.27,1.28,1.68],[13.5,1.31,1.68],[15.34,.84,1.64],[15.63,1.27,1.59],[15.83,1.27,1.59],[16,1.27,1.59],[16.34,.63,1.63],[16.39,.63,1.63],[16.77,1.28,1.64],[16.9,1.28,1.64],[17.1,1.28,1.64],[16.77,.9,1.1],[16.98,.9,1.1],[17.16,.9,1.1],[16.82,.65,.9],[17.75,1.22,1.625],[17.98,1.22,1.64],[18.32,1.22,1.65],[18.6,1.235,1.625],[20.82,1.28,1.68],[21.44,1.3,1.606],[21.64,1.3,1.615],[21.87,1.3,1.606],[22.09,1.315,1.606],[22.29,1.315,1.59],[22.49,1.315,1.59],[20.82,1.68,1.8],[21.7,1.68,1.89],[22.07,1.68,1.8],[22.35,1.68,1.87]];

const svg=d3.select("#c");
const plot={l:179,r:1019,t:116,b:764};
const x=d3.scaleLinear().domain([0,23.83]).range([plot.l,plot.r]);
const y=d3.scaleLinear().domain([0,3]).range([plot.b,plot.t]);
const palette=d3.range(levels.length-1).map(i=>d3.piecewise(d3.interpolateRgb,jetAnchors)(i/(levels.length-2)));
const nx=columnHours.length,ny=rowHeights.length;
const flat=heightRows.flatMap(r=>columnHours.map((_,i)=>r[i]??r[r.length-1]));
const hourAt=d3.scaleLinear().domain(d3.range(nx)).range(columnHours).clamp(true);
const heightAt=d3.scaleLinear().domain(d3.range(ny)).range(rowHeights).clamp(true);
const path=d3.geoPath(d3.geoTransform({point(a,b){this.stream.point(x(hourAt(a-.5)),y(heightAt(b-.5)));}}));
const contours=d3.contours().size([nx,ny]).smooth(true).thresholds(levels.slice(0,-1))(flat);
svg.append("g").selectAll("path").data(contours).join("path")
  .attr("d",path).attr("fill",(d,i)=>palette[i]).attr("stroke",(d,i)=>palette[i]).attr("stroke-width",.3);
const bandColor=d3.scaleThreshold().domain(levels.slice(1,-1)).range(palette);
[[4.5,streaks45],[5.5,streaks55],[6.5,streaks65],[7.5,streaks75],[8.5,streaks85]].forEach(([v,list])=>{
  svg.append("g").attr("stroke",bandColor(v)).attr("stroke-width",1.2).selectAll("line").data(list).join("line")
    .attr("x1",d=>x(d[0])).attr("x2",d=>x(d[0])).attr("y1",d=>y(d[1])).attr("y2",d=>y(d[2]));
});

const axY=svg.append("g").attr("transform",`translate(${plot.l},0)`)
  .call(d3.axisLeft(y).tickValues(heightTicks).tickFormat(d3.format(".1f")).tickSize(9).tickSizeOuter(0).tickPadding(5));
axY.selectAll("text").attr("font-size",17.5).attr("dy","0.38em").style("font-family","Liberation Sans");
axY.selectAll("path,line").attr("stroke","#000");
const axX=svg.append("g").attr("transform",`translate(0,${plot.b})`)
  .call(d3.axisBottom(x).tickValues(hourLabels.map(Number)).tickFormat((d,i)=>hourLabels[i]).tickSize(10).tickPadding(8));
axX.select(".domain").remove();
axX.selectAll("text").attr("font-size",13).style("font-family","Liberation Sans");
axX.selectAll("line").attr("stroke","#000");
axX.append("line").attr("x1",x(0)).attr("x2",x(23)).attr("y1",.5).attr("y2",.5).attr("stroke","#000");

const leg=d3.scaleLinear().domain([1,25]).range([plot.b,plot.t]);
const legX=1031,legW=25;
svg.append("g").selectAll("rect").data(palette).join("rect")
  .attr("x",legX).attr("width",legW)
  .attr("y",(d,i)=>leg(levels[i+1])).attr("height",(d,i)=>leg(levels[i])-leg(levels[i+1]))
  .attr("fill",d=>d).attr("stroke","#000").attr("stroke-width",.7);
const axL=svg.append("g").attr("transform",`translate(${legX+legW},0)`)
  .call(d3.axisRight(leg).tickValues(legendTicks).tickSize(8).tickPadding(6));
axL.select(".domain").remove();
axL.selectAll("text").attr("font-size",17.5).attr("dy","0.42em").style("font-family","Liberation Sans");
axL.selectAll("line").attr("stroke","#000");
svg.append("line").attr("x1",legX).attr("x2",legX+legW).attr("y1",.5).attr("y2",.5).attr("stroke","#000");

svg.append("text").attr("x",598).attr("y",93).attr("text-anchor","middle").attr("font-size",14.6).attr("font-weight","bold").text(titleText);
svg.append("text").attr("x",599).attr("y",829).attr("text-anchor","middle").attr("font-size",18).text(xTitle);
svg.append("text").attr("transform","translate(88,548) rotate(-90)").attr("text-anchor","middle").attr("font-size",18).text(yTitle);
</script></body></html>
